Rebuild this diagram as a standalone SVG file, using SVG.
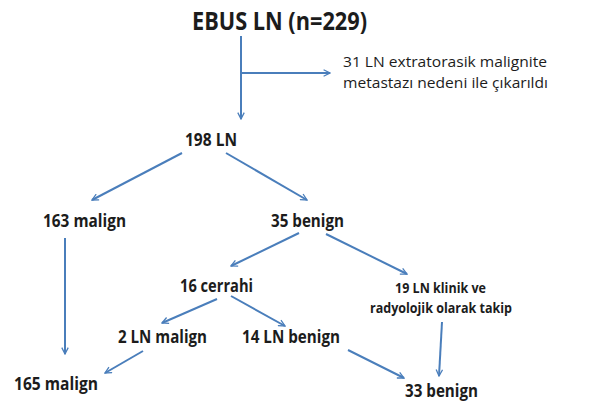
<svg xmlns="http://www.w3.org/2000/svg" width="607" height="408" viewBox="0 0 607 408">
<style>
text{font-family:"Open Sans",Lato,"Liberation Sans",sans-serif;fill:#1c1c1c}
.b{font-weight:bold;font-size:18px}
.t{font-weight:bold;font-size:25px}
.s{font-weight:bold;font-size:14px}
.n{font-size:14.5px}
.c line{stroke:#4a7ebb;stroke-width:2;fill:none}
</style>
<defs>
<marker id="a" viewBox="0 0 10 10" refX="9" refY="5" markerWidth="8" markerHeight="8" markerUnits="userSpaceOnUse" orient="auto">
<path d="M1,1 L9,5 L1,9" fill="none" stroke="#4a7ebb" stroke-width="1.6"/>
</marker>
</defs>
<g class="c" id="connectors">
<line x1="241" y1="36" x2="241" y2="119" marker-end="url(#a)"/>
<line x1="242" y1="73" x2="330" y2="73" marker-end="url(#a)"/>
<line x1="182" y1="153" x2="92" y2="200" marker-end="url(#a)"/>
<line x1="226" y1="153" x2="307" y2="200" marker-end="url(#a)"/>
<line x1="65" y1="238" x2="65" y2="354" marker-end="url(#a)"/>
<line x1="299" y1="233" x2="231" y2="266" marker-end="url(#a)"/>
<line x1="326" y1="234" x2="407" y2="274" marker-end="url(#a)"/>
<line x1="217" y1="299" x2="162" y2="323" marker-end="url(#a)"/>
<line x1="231" y1="296" x2="285" y2="326" marker-end="url(#a)"/>
<line x1="143" y1="351" x2="105" y2="373" marker-end="url(#a)"/>
<line x1="348" y1="350" x2="404" y2="378" marker-end="url(#a)"/>
<line x1="442" y1="322" x2="439" y2="376" marker-end="url(#a)"/>
</g>
<g id="ebus"><text class="t" x="192" y="30" textLength="175" lengthAdjust="spacingAndGlyphs">EBUS LN (n=229)</text></g>
<g id="excluded">
<text class="n" x="343" y="67" textLength="204" lengthAdjust="spacingAndGlyphs">31 LN extratorasik malignite</text>
<text class="n" x="343" y="88" textLength="205" lengthAdjust="spacingAndGlyphs">metastazı nedeni ile çıkarıldı</text>
</g>
<g id="n198"><text class="b" x="185" y="146" textLength="52" lengthAdjust="spacingAndGlyphs">198 LN</text></g>
<g id="n163"><text class="b" x="43" y="227" textLength="83" lengthAdjust="spacingAndGlyphs">163 malign</text></g>
<g id="n35"><text class="b" x="271" y="227" textLength="73" lengthAdjust="spacingAndGlyphs">35 benign</text></g>
<g id="n16"><text class="b" x="180" y="292" textLength="73" lengthAdjust="spacingAndGlyphs">16 cerrahi</text></g>
<g id="n19">
<text class="s" x="395" y="293" textLength="91" lengthAdjust="spacingAndGlyphs">19 LN klinik ve</text>
<text class="s" x="370" y="313" textLength="142" lengthAdjust="spacingAndGlyphs">radyolojik olarak takip</text>
</g>
<g id="n2"><text class="b" x="118" y="343" textLength="89" lengthAdjust="spacingAndGlyphs">2 LN malign</text></g>
<g id="n14"><text class="b" x="242" y="343" textLength="98" lengthAdjust="spacingAndGlyphs">14 LN benign</text></g>
<g id="n165"><text class="b" x="14" y="390" textLength="84" lengthAdjust="spacingAndGlyphs">165 malign</text></g>
<g id="n33"><text class="b" x="405" y="397" textLength="73" lengthAdjust="spacingAndGlyphs">33 benign</text></g>
</svg>
